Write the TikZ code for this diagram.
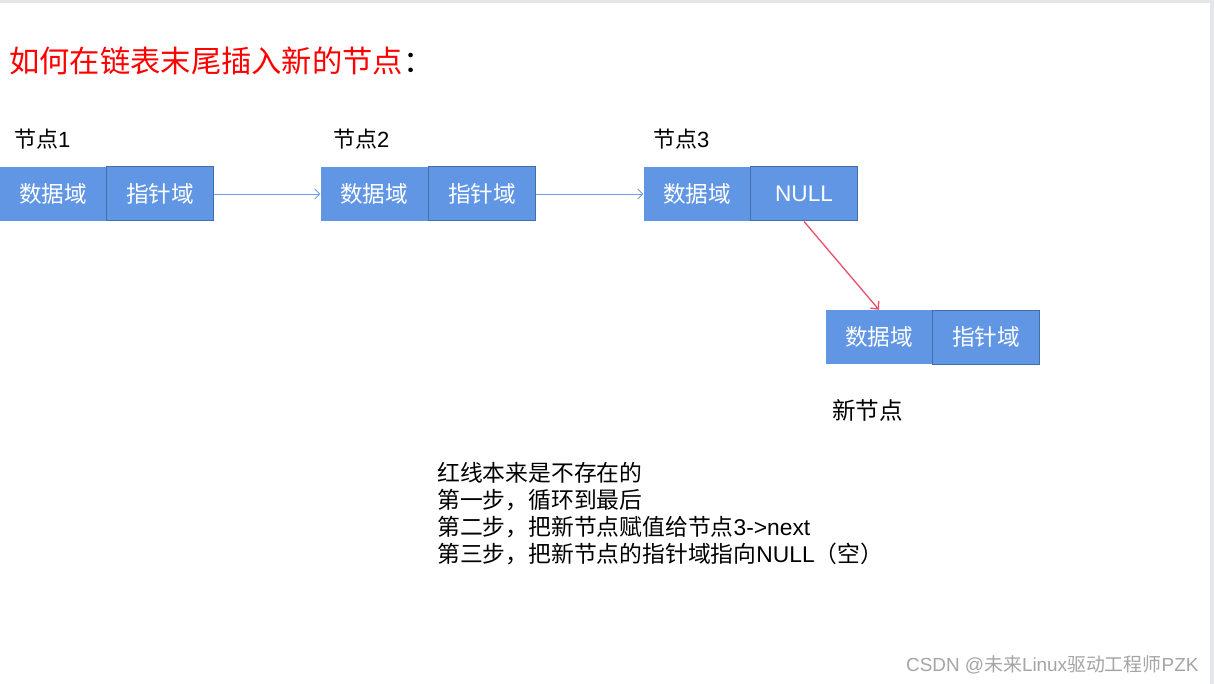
\documentclass[tikz,border=0pt]{standalone}
\usepackage{fontspec}
\setmainfont{Noto Sans CJK SC}
\newfontfamily\lat{Liberation Sans}
\usetikzlibrary{arrows.meta}
\definecolor{boxfill}{RGB}{96,150,228}
\definecolor{boxedge}{RGB}{65,113,170}
\definecolor{linkblue}{RGB}{110,160,235}
\definecolor{redarrow}{RGB}{232,80,105}
\definecolor{framegray}{RGB}{228,230,233}
\definecolor{wmgray}{RGB}{165,165,165}
\tikzset{
  datacell/.style={fill=boxfill, draw=none, minimum width=107pt, minimum height=54pt, inner sep=0pt, text=white, font=\fontsize{22.6}{26}\selectfont},
  ptrcell/.style={datacell, draw=boxedge, line width=1pt},
  lbl/.style={anchor=base west, inner sep=0pt, font=\fontsize{22}{25}\selectfont},
  note/.style={anchor=base west, inner sep=0pt, font=\fontsize{22.8}{26}\selectfont},
  link/.style={draw=linkblue, line width=0.9pt, -{Straight Barb[length=5pt,width=10pt]}},
  redlink/.style={draw=redarrow, line width=1.3pt, -{Straight Barb[length=6pt,width=11pt]}}
}
\begin{document}
\begin{tikzpicture}[x=1pt,y=-1pt]
\useasboundingbox (0,0) rectangle (1214,684);
\fill[white] (0,0) rectangle (1214,684);
\fill[framegray] (0,0) rectangle (1214,3);
\fill[framegray] (1210,0) rectangle (1214,684);

\node[anchor=base west, inner sep=0pt, font=\fontsize{30.3}{34}\selectfont] (title) at (9,73) {\textcolor{red}{如何在链表末尾插入新的节点}：};

\node[lbl] (lab1) at (14,148) {节点{\lat 1}};
\node[lbl] (lab2) at (333,148) {节点{\lat 2}};
\node[lbl] (lab3) at (653,148) {节点{\lat 3}};

\node[datacell] (n1d) at (53,194) {数据域};
\node[ptrcell] (n1p) at (160,194) {指针域};
\node[datacell] (n2d) at (374,194) {数据域};
\node[ptrcell] (n2p) at (482,194) {指针域};
\node[datacell] (n3d) at (697,194) {数据域};
\node[ptrcell] (n3p) at (804,194) {\lat NULL};
\node[datacell] (nd) at (879,337) {数据域};
\node[ptrcell] (np) at (986,337) {指针域};

\node[lbl, font=\fontsize{23.6}{27}\selectfont] (labn) at (832,419) {新节点};

\draw[link] (n1p.east) -- (n2d.west);
\draw[link] (n2p.east) -- (n3d.west);
\draw[redlink] (n3p.south) -- (nd.north);

\node[note] (t1) at (437,481) {红线本来是不存在的};
\node[note] (t2) at (437,508) {第一步，循环到最后};
\node[note] (t3) at (437,535) {第二步，把新节点赋值给节点{\lat 3->next}};
\node[note] (t4) at (437,562) {第三步，把新节点的指针域指向{\lat NULL}（空）};

\node[anchor=base west, inner sep=0pt, text=wmgray, font=\fontsize{18.9}{21}\selectfont] (wm) at (906,671) {{\lat CSDN @}未来{\lat Linux}驱动工程师{\lat PZK}};
\end{tikzpicture}
\end{document}
